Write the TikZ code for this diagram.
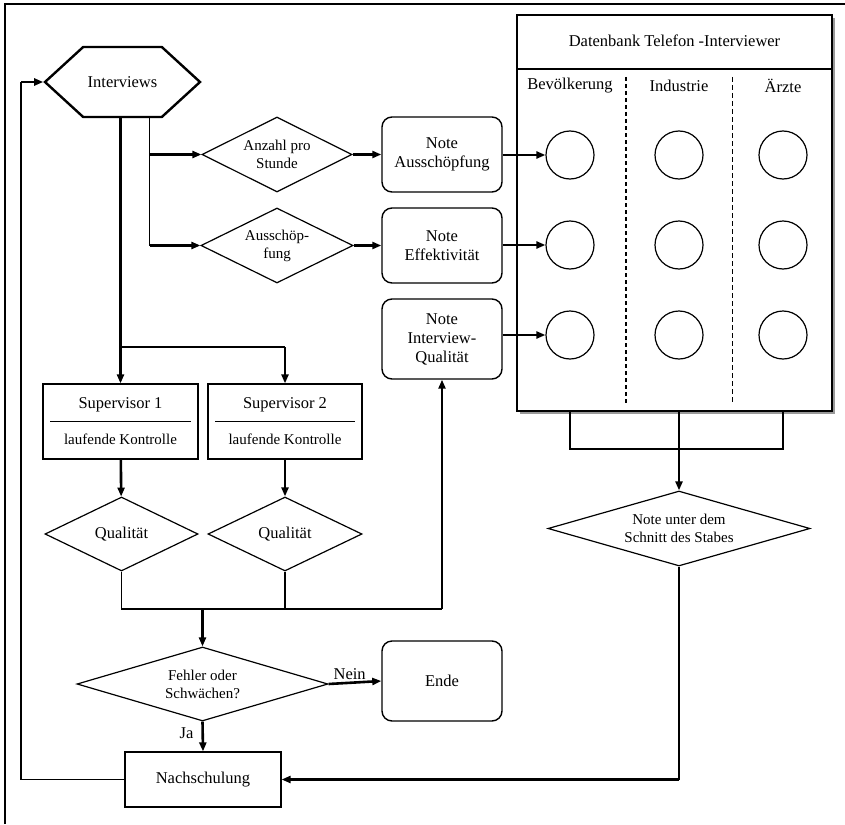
\documentclass[tikz,border=0pt]{standalone}
\usepackage{fontspec}
\setmainfont{Liberation Serif}
\usepackage{tikz}
\usetikzlibrary{positioning,shapes.geometric,shapes.symbols,arrows.meta,calc,shadows}

\newcommand{\bigtxt}{\fontsize{16.5}{19}\selectfont}
\newcommand{\smalltxt}{\fontsize{15}{18}\selectfont}

\begin{document}
\begin{tikzpicture}[
    x=1pt, y=-1pt,
    font=\bigtxt,
    line/.style={line width=1.1pt},
    arr/.style={-{Triangle[length=9pt,width=7pt]}, line width=2.6pt},
    hexa/.style={
        draw,
        signal,
        signal to=west and east,
        signal pointer angle=85,
        line width=2.4pt,
        minimum width=155pt,
        minimum height=70pt,
        inner sep=0pt
    },
    decide/.style={
        draw,
        diamond,
        line width=1.2pt,
        inner sep=0pt,
        align=center,
        font=\smalltxt
    },
    note/.style={
        draw,
        rounded corners=10pt,
        line width=1.4pt,
        minimum width=120pt,
        minimum height=75pt,
        align=center
    },
    box/.style={
        draw,
        line width=1.2pt,
        align=center
    },
    slot/.style={
        draw,
        circle,
        line width=1.2pt,
        minimum size=48pt,
        inner sep=0pt
    }
]
\useasboundingbox (0,0) rectangle (845,824);

% frame
\draw[line] (5,824) -- (5,4) -- (845,4);

\node[hexa] (iv) at (122.5,82) {Interviews};

\node[decide, minimum width=150pt, minimum height=75pt, aspect=2] (anz) at (277,154.5)
{Anzahl pro\\Stunde};
\node[decide, minimum width=152pt, minimum height=75pt, aspect=2] (aus) at (277,245.5)
{Ausschöp-\\fung};

\node[note] (noteA) at (442,154.5) {Note\\Ausschöpfung};
\node[note] (noteE) at (442,245.5) {Note\\Effektivität};
\node[note, minimum height=80pt] (noteQ) at (442,339) {Note\\Interview-\\Qualität};

% database
\node[draw, line width=1.4pt, fill=white, minimum width=315pt, minimum height=396pt,
      drop shadow={shadow xshift=3pt, shadow yshift=-3pt, fill=gray!80, opacity=1}]
      (db) at (674.5,213) {};
\node (dbtitle) at (674.5,41) {Datenbank Telefon -Interviewer};
\draw[line] (db.west |- 0,69) -- (db.east |- 0,69);

\node (bevl) at (570,86) {Bevölkerung};
\node (indl) at (679,86) {Industrie};
\node (arzl) at (783,86) {Ärzte};

\draw[line width=1.6pt, dash pattern=on 4pt off 3pt] (626,77) -- (626,403);
\draw[line width=1pt, dash pattern=on 5pt off 3pt] (732,77) -- (732,403);

\node[slot] (bev1) at (570,155) {};
\node[slot] (ind1) at (679,155) {};
\node[slot] (arz1) at (783,155) {};
\node[slot] (bev2) at (570,245) {};
\node[slot] (ind2) at (679,245) {};
\node[slot] (arz2) at (783,245) {};
\node[slot] (bev3) at (570,335) {};
\node[slot] (ind3) at (679,335) {};
\node[slot] (arz3) at (783,335) {};

\node[decide, minimum width=262pt, minimum height=75pt, aspect=3.5] (schnitt) at (679,528.5)
{Note unter dem\\Schnitt des Stabes};

% supervisors
\node[box, minimum width=155pt, minimum height=75pt] (sup1) at (120.5,421.5)
{Supervisor 1\\[17pt]{\smalltxt laufende Kontrolle}};
\node[box, minimum width=154pt, minimum height=75pt] (sup2) at (285,421.5)
{Supervisor 2\\[17pt]{\smalltxt laufende Kontrolle}};
\draw[line] ([xshift=8pt]sup1.west) -- ([xshift=-8pt]sup1.east);
\draw[line] ([xshift=8pt]sup2.west) -- ([xshift=-8pt]sup2.east);

\node[decide, minimum width=153pt, minimum height=74pt, aspect=2.07, font=\bigtxt] (qual1) at (121.5,534) {Qualität};
\node[decide, minimum width=154pt, minimum height=74pt, aspect=2.07, font=\bigtxt] (qual2) at (285,534) {Qualität};

\node[decide, minimum width=251pt, minimum height=74pt, aspect=3.4] (fehler) at (202.5,684)
{Fehler oder\\Schwächen?};
\node[note, minimum height=80pt] (ende) at (442,681) {Ende};
\node[box, minimum width=156pt, minimum height=55pt] (nach) at (203,779.5) {Nachschulung};

% connectors
\coordinate (split) at (sup1.north |- 0,347);
\coordinate (tap) at ([xshift=27pt]iv.south);
\coordinate (collect) at (qual1.south |- 0,609);
\coordinate (dbjoin) at (bev3 |- 0,449);
\coordinate (back) at (21,0 |- iv.west);

\draw[arr] (iv.south -| sup1.north) -- (sup1.north);
\draw[line] (split) -- (split -| sup2.north);
\draw[arr] (split -| sup2.north) -- (sup2.north);

\draw[line] (tap) -- (tap |- aus);
\draw[arr] (tap |- anz) -- (anz.west);
\draw[arr] (tap |- aus) -- (aus.west);
\draw[arr] (anz) -- (noteA);
\draw[arr] (aus) -- (noteE);
\draw[arr] (noteA.east |- bev1) -- (bev1);
\draw[arr] (noteE.east |- bev2) -- (bev2);
\draw[arr] (noteQ.east |- bev3) -- (bev3);

\draw[line] (bev3 |- db.south) -- (dbjoin) -| (arz3 |- db.south);
\draw[arr] (ind3 |- db.south) -- (schnitt.north);
\draw[line] (schnitt.south) -- (schnitt.south |- nach);
\draw[arr] (schnitt.south |- nach) -- (nach.east);

\draw[arr] (sup1) -- (qual1);
\draw[arr] (sup2) -- (qual2);
\draw[line] (qual1.south) -- (collect) -- (collect -| noteQ.south);
\draw[line] (qual2.south) -- (qual2.south |- collect);
\draw[arr] (collect -| noteQ.south) -- (noteQ.south);
\draw[arr] (collect -| fehler.north) -- (fehler.north);

\draw[arr] (fehler.east) -- node[above, pos=0.4, inner sep=2pt] {Nein} (ende.west);
\draw[arr] (fehler.south) -- node[left, pos=0.4, inner sep=8pt] {Ja} (nach.north);

\draw[line] (nach.west) -| (back);
\draw[arr] (back) -- (iv.west);

\end{tikzpicture}
\end{document}
